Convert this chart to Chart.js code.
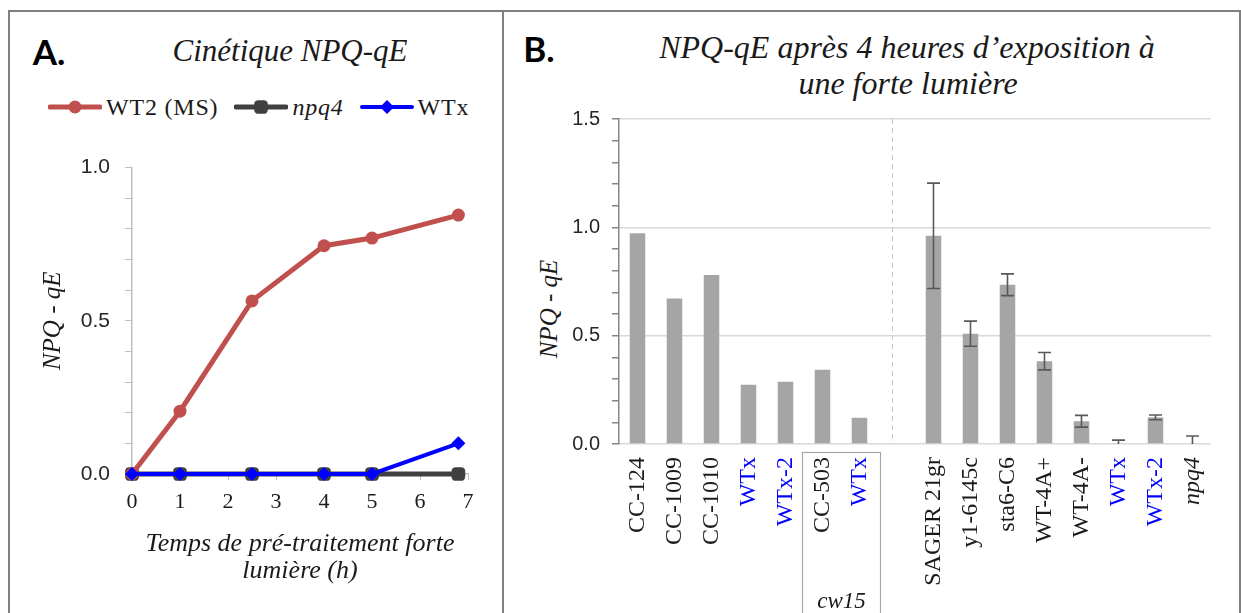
<!DOCTYPE html>
<html>
<head>
<meta charset="utf-8">
<script src="https://cdn.jsdelivr.net/npm/chart.js@4"></script>
<style>
  html, body { margin: 0; padding: 0; background: #fff; }
  body { width: 1241px; height: 613px; position: relative; overflow: hidden;
         font-family: 'Liberation Serif', serif; color: #1a1a1a; }
  .frame { position: absolute; background: #808080; }
  .c { position: absolute; transform: translate(-50%, -50%); white-space: nowrap; line-height: 1; }
  .tag { font-family: Lato, 'Open Sans', sans-serif; font-weight: 700; font-size: 35px; color: #000; }
  .ttl { font-style: italic; font-size: 31px; }
  .ytitle { font-style: italic; font-size: 25px; transform: translate(-50%, -50%) rotate(-90deg); }
  #legendA { position: absolute; left: 48px; top: 95px; height: 24px; display: flex; align-items: center;
             font-size: 24px; letter-spacing: 0.8px; }
  #legendA .item { display: flex; align-items: center; margin-right: 16px; }
  #legendA canvas { margin-right: 4px; }
  .box { position: absolute; }
</style>
</head>
<body>
<!-- frame lines -->
<div class="frame" style="left:9px; top:10px; width:1232px; height:2px;"></div>
<div class="frame" style="left:8px; top:10px; width:2px; height:603px;"></div>
<div class="frame" style="left:502px; top:10px; width:2px; height:603px;"></div>
<div class="frame" style="left:1239px; top:10px; width:2px; height:603px;"></div>

<div class="c tag" style="left:49px; top:51px;">A.</div>
<div class="c ttl" style="left:290px; top:50px;">Cinétique NPQ-qE</div>
<div id="legendA"></div>

<div class="c tag" style="left:539px; top:48px;">B.</div>
<div class="c ttl" style="left:907px; top:47px; font-size:32px;">NPQ-qE après 4 heures d’exposition à</div>
<div class="c ttl" style="left:908px; top:83px; font-size:32px;">une forte lumière</div>
<div class="c ytitle" style="left:548px; top:309px;">NPQ - qE</div>

<div class="box" style="left:12px; top:140px; width:488px; height:460px;"><canvas id="chartA"></canvas></div>
<div class="box" style="left:505px; top:95px; width:730px; height:518px;"><canvas id="chartB"></canvas></div>

<script>
// ---- Panel A: kinetics ----
const hoursA    = [0, 1, 2.5, 4, 5, 6.8];
const qeWT2     = [0, 0.205, 0.565, 0.745, 0.77, 0.845];
const qeNpq4A   = [0, 0, 0, 0, 0, 0];
const qeWTxA    = [0, 0, 0, 0, 0, 0.1];
const namesA    = ["WT2 (MS)", "npq4", "WTx"];

// ---- Panel B: after 4 h high light ----
const strainsB  = ["CC-124", "CC-1009", "CC-1010", "WTx", "WTx-2", "CC-503", "WTx", "",
                   "SAGER 21gr", "y1-6145c", "sta6-C6", "WT-4A+", "WT-4A-", "WTx", "WTx-2", "npq4"];
const qeB       = [0.973, 0.672, 0.78, 0.273, 0.287, 0.343, 0.121, null,
                   0.961, 0.509, 0.735, 0.382, 0.105, 0.004, 0.123, 0.0];
const errB      = [null, null, null, null, null, null, null, null,
                   0.243, 0.058, 0.05, 0.04, 0.027, 0.014, 0.011, 0.037];
const yTicksB   = [0, 0.5, 1.0, 1.5];

const RED   = "#c0504d";
const DARK  = "#404040";
const BLUE  = "#0000ff";
const SERIF = "'Liberation Serif', serif";
const SANS  = "'Liberation Sans', sans-serif";
const AXIS_A = "#bfbfbf";

const isHalf = v => Math.abs(v * 2 - Math.round(v * 2)) < 1e-6;

function pts(xs, ys) { return xs.map((x, i) => ({ x: x, y: ys[i] })); }

const dsA = [
  { label: namesA[0], data: pts(hoursA, qeWT2), borderColor: RED, backgroundColor: RED,
    borderWidth: 5, pointStyle: "circle", pointRadius: 6.5, order: 1 },
  { label: namesA[1], data: pts(hoursA, qeNpq4A), borderColor: DARK, backgroundColor: DARK,
    borderWidth: 5, pointStyle: "rectRounded", pointRadius: 8, order: 2 },
  { label: namesA[2], data: pts(hoursA, qeWTxA), borderColor: BLUE, backgroundColor: BLUE,
    borderWidth: 4, pointStyle: "rectRot", pointRadius: 7, order: 0 },
];
dsA.forEach(d => { d.clip = false; d.tension = 0; d.pointBorderWidth = 0; });

const chartA = new Chart(document.getElementById("chartA"), {
  type: "line",
  data: { datasets: dsA },
  options: {
    responsive: true, maintainAspectRatio: false, animation: false,
    layout: { padding: { left: 0, right: 32, top: 19, bottom: 0 } },
    plugins: { legend: { display: false }, tooltip: { enabled: false } },
    scales: {
      x: {
        type: "linear", min: 0, max: 7,
        ticks: { stepSize: 1, padding: 9, color: "#1a1a1a", font: { family: SERIF, size: 22 } },
        grid: { drawOnChartArea: false, tickLength: 6, tickColor: AXIS_A },
        border: { color: AXIS_A, width: 1.5 },
        title: { display: true, text: ["Temps de pré-traitement forte", "lumière (h)"],
                 color: "#1a1a1a", padding: { top: 0, bottom: 15 },
                 font: { family: SERIF, size: 26, style: "italic", lineHeight: 1.05 } },
        afterFit: s => { s.height = 126; }
      },
      y: {
        min: 0, max: 1,
        ticks: { stepSize: 0.1, autoSkip: false, padding: 15, color: "#262626", font: { family: SANS, size: 21 },
                 callback: v => isHalf(v) ? v.toFixed(1) : "" },
        grid: { drawOnChartArea: false, tickLength: 7, tickColor: AXIS_A },
        border: { color: AXIS_A, width: 1.5 },
        title: { display: true, text: "NPQ - qE", color: "#1a1a1a", padding: { top: 26, bottom: 0 },
                 font: { family: SERIF, size: 25, style: "italic" } },
        afterFit: s => { s.width = 120; }
      }
    }
  }
});

// HTML legend for panel A (npq4 in italics)
(function buildLegend() {
  const host = document.getElementById("legendA");
  chartA.data.datasets.forEach(d => {
    const item = document.createElement("div");
    item.className = "item";
    const cv = document.createElement("canvas");
    cv.width = 54; cv.height = 22;
    const g = cv.getContext("2d");
    g.strokeStyle = d.borderColor; g.lineWidth = d.borderWidth; g.lineCap = "round";
    g.beginPath(); g.moveTo(2, 11); g.lineTo(52, 11); g.stroke();
    g.fillStyle = d.backgroundColor; g.strokeStyle = d.backgroundColor;
    Chart.helpers.drawPoint(g, { pointStyle: d.pointStyle, radius: d.pointRadius, rotation: 0, borderWidth: 0 }, 27, 11);
    const txt = document.createElement("span");
    txt.textContent = d.label;
    if (d.label === "npq4") txt.style.fontStyle = "italic";
    item.appendChild(cv); item.appendChild(txt);
    host.appendChild(item);
  });
})();

// ---- Panel B plugins ----
const errorBars = {
  id: "errorBars",
  afterDatasetsDraw(chart) {
    const { ctx, chartArea, scales: { x, y } } = chart;
    ctx.save();
    ctx.beginPath();
    ctx.rect(chartArea.left, chartArea.top - 20, chartArea.width, chartArea.height + 20);
    ctx.clip();
    ctx.strokeStyle = "#595959"; ctx.lineWidth = 1.6;
    errB.forEach((e, i) => {
      if (e == null || qeB[i] == null) return;
      const px = x.getPixelForValue(i);
      const hi = y.getPixelForValue(qeB[i] + e);
      const lo = y.getPixelForValue(qeB[i] - e);
      ctx.beginPath();
      ctx.moveTo(px, hi); ctx.lineTo(px, lo);
      ctx.moveTo(px - 6.5, hi); ctx.lineTo(px + 6.5, hi);
      ctx.moveTo(px - 6.5, lo); ctx.lineTo(px + 6.5, lo);
      ctx.stroke();
    });
    ctx.restore();
  }
};

const groupMarks = {
  id: "groupMarks",
  afterDraw(chart) {
    const { ctx, chartArea, scales: { x } } = chart;
    const gap = strainsB.indexOf("");
    ctx.save();
    // dashed separator in the empty slot
    ctx.strokeStyle = "#c8c8c8"; ctx.lineWidth = 1; ctx.setLineDash([5, 4]);
    const dx = Math.round(x.getPixelForValue(gap)) - 3.5;
    ctx.beginPath(); ctx.moveTo(dx, chartArea.top); ctx.lineTo(dx, chartArea.bottom); ctx.stroke();
    ctx.setLineDash([]);
    // cw15 box around CC-503 and its WTx
    const l = x.getPixelForValue(5) - 20, r = x.getPixelForValue(6) + 21;
    const t = chartArea.bottom + 8.5;
    ctx.strokeStyle = "#a6a6a6"; ctx.lineWidth = 1.2;
    ctx.strokeRect(l, t, r - l, chart.height + 10 - t);
    ctx.fillStyle = "#1a1a1a";
    ctx.font = "italic 23px " + SERIF;
    ctx.textAlign = "center"; ctx.textBaseline = "alphabetic";
    ctx.fillText("cw15", (l + r) / 2, chart.height - 5);
    ctx.restore();
  }
};

const chartB = new Chart(document.getElementById("chartB"), {
  type: "bar",
  data: {
    labels: strainsB,
    datasets: [{ data: qeB, backgroundColor: "#a5a5a5", borderWidth: 0,
                 barPercentage: 0.42, categoryPercentage: 1 }]
  },
  options: {
    responsive: true, maintainAspectRatio: false, animation: false,
    layout: { padding: { left: 0, right: 23, top: 15, bottom: 0 } },
    plugins: { legend: { display: false }, tooltip: { enabled: false } },
    scales: {
      x: {
        ticks: {
          autoSkip: false, minRotation: 90, maxRotation: 90, padding: 13,
          color: c => strainsB[c.index].startsWith("WTx") ? BLUE : "#1a1a1a",
          font: c => ({ family: SERIF, size: 24, style: strainsB[c.index] === "npq4" ? "italic" : "normal" })
        },
        grid: { drawOnChartArea: false, drawTicks: false },
        border: { color: "#d9d9d9", width: 1.5 },
        afterFit: s => { s.height = 169; }
      },
      y: {
        min: 0, max: 1.5,
        ticks: { stepSize: 0.1, autoSkip: false, padding: 12, color: "#262626", font: { family: SANS, size: 20 },
                 callback: v => yTicksB.some(t => Math.abs(t - v) < 1e-6) ? v.toFixed(1) : "" },
        grid: {
          color: c => (c.tick && c.tick.value > 0 && isHalf(c.tick.value)) ? "#d9d9d9" : "rgba(0,0,0,0)",
          lineWidth: 1.5, tickLength: 7, tickColor: "#868686"
        },
        border: { color: "#868686", width: 1.5 },
        afterFit: s => { s.width = 114; }
      }
    }
  },
  plugins: [errorBars, groupMarks]
});
</script>
</body>
</html>
